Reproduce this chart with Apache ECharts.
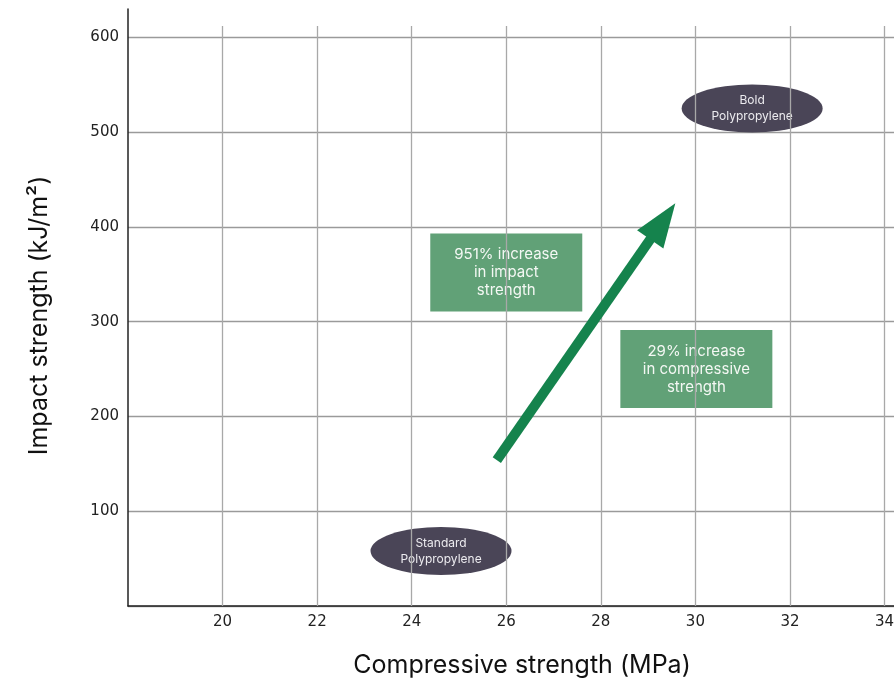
<!DOCTYPE html>
<html><head><meta charset="utf-8">
<script src="https://cdn.jsdelivr.net/npm/echarts@6/dist/echarts.min.js"></script>
<style>html,body{margin:0;padding:0;background:#fff}#c{width:894px;height:684px}</style>
</head><body><div id="c"></div>
<script>
// Materials (compressive strength MPa, impact strength kJ/m2)
const materials = ['Standard\nPolypropylene', 'Bold\nPolypropylene'];
const compressive = [24.62, 31.2];
const impact = [58, 525];
// Arrow from/to
const arrowFrom = [25.8, 154];
const arrowTo = [29.31, 406];
// Annotation boxes
const notes = ['951% increase\nin impact\nstrength', '29% increase\nin compressive\nstrength'];
const noteX = [26.0, 30.02];
const noteY = [352, 250];
// Axis ticks
const xTicks = [20, 22, 24, 26, 28, 30, 32, 34];
const yTicks = [100, 200, 300, 400, 500, 600];

const chart = echarts.init(document.getElementById('c'));
chart.setOption({
  animation: false,
  grid: {left: 128, right: 0, top: 9, bottom: 78, outerBoundsMode: 'none', containLabel: false},
  xAxis: {
    type: 'value', min: 18, max: 34.2, interval: 2,
    axisLine: {show: true, lineStyle: {color: '#222', width: 1.5}},
    axisTick: {show: false},
    splitLine: {show: false},
    axisLabel: {color: '#222', fontSize: 15, fontFamily: 'DejaVu Sans', margin: 9, hideOverlap: false,
      formatter: v => xTicks.includes(v) ? String(v) : ''},
    name: 'Compressive strength (MPa)', nameLocation: 'middle', nameGap: 47,
    nameTextStyle: {fontFamily: 'Inter', fontSize: 25, color: '#111', padding: [0,0,0,22]}
  },
  yAxis: {
    type: 'value', min: 0, max: 630, interval: 100,
    axisLine: {show: true, lineStyle: {color: '#222', width: 1.5}},
    axisTick: {show: false},
    splitLine: {show: true, showMaxLine: false, lineStyle: {color: '#9a9a9a', width: 1.3}},
    axisLabel: {color: '#222', fontSize: 15, fontFamily: 'DejaVu Sans', margin: 9,
      formatter: v => yTicks.includes(v) ? String(v) : ''},
    name: 'Impact strength (kJ/m²)', nameLocation: 'middle', nameGap: 76, nameRotate: 90,
    nameTextStyle: {fontFamily: 'Inter', fontSize: 25, color: '#111', padding: [0,16,0,0]}
  },
  series: [
    {
      type: 'line', data: [], silent: true,
      markLine: {
        silent: true, symbol: 'none', label: {show: false},
        lineStyle: {color: '#a8a8a8', width: 1.3, type: 'solid'},
        data: xTicks.map(x => [{coord: [x, 0]}, {coord: [x, 612]}])
      }
    },
    {
      type: 'line', data: [], silent: true, z: 5,
      markLine: {
        silent: true, symbol: ['none', 'triangle'], symbolSize: [32, 44], label: {show: false},
        lineStyle: {color: '#15834d', width: 10, type: 'solid', opacity: 1},
        itemStyle: {color: '#15834d'},
        data: [[{coord: arrowFrom}, {coord: arrowTo}]]
      }
    },
    {
      type: 'scatter', z: 4,
      symbol: 'rect', symbolSize: [152, 78],
      itemStyle: {color: '#61a177', opacity: 1},
      label: {show: true, position: 'inside', color: '#f4f8f4', fontFamily: 'Inter', fontSize: 15, lineHeight: 18,
        formatter: p => notes[p.dataIndex]},
      data: noteX.map((x, i) => [x, noteY[i]])
    },
    {
      type: 'scatter', z: 4,
      symbol: 'circle', symbolSize: [141, 48],
      itemStyle: {color: '#4a4557', opacity: 1},
      label: {show: true, position: 'inside', color: '#ecebef', fontFamily: 'Inter', fontSize: 12, lineHeight: 16,
        formatter: p => materials[p.dataIndex]},
      data: compressive.map((x, i) => [x, impact[i]])
    }
  ]
});
</script></body></html>
